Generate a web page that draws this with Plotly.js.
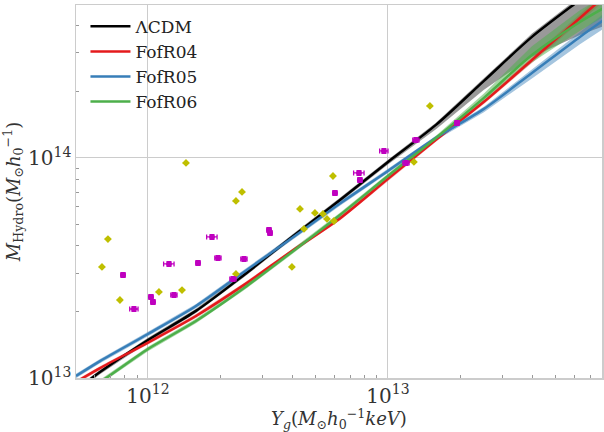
<!DOCTYPE html>
<html>
<head>
<meta charset="utf-8">
<script src="https://cdn.plot.ly/plotly-3.0.1.min.js"></script>
<style>html,body{margin:0;padding:0;background:#fff;}#chart{width:604px;height:432px;}</style>
</head>
<body>
<div id="chart"></div>
<script>
// Model curves: Y_g grid (x) and hydro mass (y)
const gridY = [5.012e11, 6.31e11, 1.0e12, 1.585e12, 2.512e12, 3.981e12, 6.31e12, 1.0e13, 1.585e13, 2.512e13, 3.981e13, 6.31e13, 7.943e13];
const lcdm   = [8.81e12, 1.064e13, 1.489e13, 2.018e13, 2.938e13, 4.375e13, 6.442e13, 9.594e13, 1.413e14, 2.239e14, 3.548e14, 5.224e14, 6.31e14];
const fofr04 = [9.59e12, 1.109e13, 1.449e13, 1.914e13, 2.649e13, 3.776e13, 5.309e13, 8.035e13, 1.208e14, 1.799e14, 2.786e14, 4.325e14, 5.395e14];
const fofr05 = [1.021e13, 1.194e13, 1.585e13, 2.123e13, 3.034e13, 4.325e13, 6.209e13, 8.73e13, 1.233e14, 1.671e14, 2.432e14, 3.548e14, 4.236e14];
const fofr06 = [8.375e12, 9.594e12, 1.355e13, 1.816e13, 2.564e13, 3.741e13, 5.508e13, 8.279e13, 1.233e14, 1.875e14, 2.938e14, 4.15e14, 4.808e14];

// Realisation scatter (lower / upper factors relative to the mean curve)
const lcdmLo = [0.977, 0.977, 0.977, 0.977, 0.977, 0.977, 0.977, 0.973, 0.955, 0.912, 0.813, 0.692, 0.631];
const lcdmHi = [1.023, 1.023, 1.023, 1.023, 1.023, 1.023, 1.023, 1.023, 1.023, 1.03, 1.035, 1.035, 1.035];
const r04Lo  = [0.98, 0.98, 0.98, 0.98, 0.98, 0.98, 0.98, 0.98, 0.98, 0.977, 0.97, 0.96, 0.955];
const r04Hi  = [1.02, 1.02, 1.02, 1.02, 1.02, 1.02, 1.02, 1.02, 1.02, 1.023, 1.03, 1.04, 1.045];
const r05Lo  = [0.977, 0.977, 0.977, 0.977, 0.977, 0.977, 0.977, 0.977, 0.977, 0.966, 0.945, 0.925, 0.915];
const r05Hi  = [1.023, 1.023, 1.023, 1.023, 1.023, 1.023, 1.023, 1.023, 1.023, 1.023, 1.04, 1.055, 1.07];
const r06Lo  = [0.977, 0.977, 0.977, 0.977, 0.977, 0.977, 0.977, 0.977, 0.977, 0.955, 0.925, 0.912, 0.912];
const r06Hi  = [1.023, 1.023, 1.023, 1.023, 1.023, 1.023, 1.023, 1.023, 1.023, 1.047, 1.096, 1.13, 1.13];

// Observed clusters, sample A (yellow diamonds)
const obsA_Y = [6.43e11, 6.81e11, 7.64e11, 1.111e12, 1.386e12, 1.44e12, 2.326e12, 2.326e12, 2.465e12, 3.98e12, 4.30e12, 4.467e12, 4.963e12, 5.36e12, 5.57e12, 5.957e12, 5.90e12, 1.283e13, 1.496e13];
const obsA_M = [3.196e13, 4.28e13, 2.262e13, 2.46e13, 2.51e13, 9.49e13, 2.97e13, 6.375e13, 7.007e13, 3.196e13, 5.865e13, 4.756e13, 5.623e13, 5.566e13, 5.282e13, 5.17e13, 8.28e13, 9.59e13, 1.724e14];
const obsA_Yerr = [3, 3, 3, 3, 3, 3, 3, 3, 3, 3, 3, 3, 3, 3, 3, 3, 3, 3, 3]; // percent
const obsA_Merr = [3, 3, 3, 3, 3, 3, 3, 3, 3, 3, 3, 3, 3, 3, 3, 3, 3, 3, 3]; // percent

// Observed clusters, sample B (magenta circles)
const obsB_Y = [7.87e11, 8.74e11, 1.029e12, 1.049e12, 1.223e12, 1.283e12, 1.616e12, 1.848e12, 1.957e12, 2.261e12, 2.512e12, 3.194e12, 3.225e12, 6.014e12, 7.572e12, 7.64e12, 9.62e12, 1.189e13, 1.308e13, 1.94e13];
const obsB_M = [2.939e13, 2.059e13, 2.335e13, 2.215e13, 3.298e13, 2.384e13, 3.332e13, 4.374e13, 3.512e13, 2.818e13, 3.474e13, 4.707e13, 4.562e13, 6.932e13, 8.55e13, 7.943e13, 1.076e14, 9.49e13, 1.207e14, 1.443e14];
const obsB_Yerr = [2, 4, 2, 2, 5, 3, 2, 5, 3, 3, 3, 2, 2, 2, 5, 2, 4, 3, 3, 2]; // percent
const obsB_Merr = [2.5, 2.5, 2.5, 2.5, 2.5, 2.5, 2.5, 2.5, 2.5, 2.5, 2.5, 2.5, 2.5, 2.5, 2.5, 2.5, 2.5, 2.5, 2.5, 2.5]; // percent

const models = [
  {name: '\u039BCDM', y: lcdm, lo: lcdmLo, hi: lcdmHi, color: '#000000', band: 'rgba(70,70,70,0.55)'},
  {name: 'FofR04', y: fofr04, lo: r04Lo, hi: r04Hi, color: '#e41a1c', band: 'rgba(228,26,28,0.35)'},
  {name: 'FofR05', y: fofr05, lo: r05Lo, hi: r05Hi, color: '#377eb8', band: 'rgba(55,126,184,0.45)'},
  {name: 'FofR06', y: fofr06, lo: r06Lo, hi: r06Hi, color: '#4daf4a', band: 'rgba(77,175,74,0.5)'}
];

const traces = [];
models.forEach(m => {
  const hiY = m.y.map((v, i) => v * m.hi[i]);
  const loY = m.y.map((v, i) => v * m.lo[i]);
  traces.push({
    x: gridY.concat(gridY.slice().reverse()),
    y: hiY.concat(loY.slice().reverse()),
    mode: 'lines', fill: 'toself', fillcolor: m.band,
    line: {width: 0}, showlegend: false, hoverinfo: 'skip'
  });
});
models.forEach(m => {
  traces.push({
    x: gridY, y: m.y, name: m.name, mode: 'lines',
    line: {color: m.color, width: 2.5, shape: 'spline', smoothing: 0.8}
  });
});

const pct = (vals, errs) => vals.map((v, i) => v * errs[i] / 100);

traces.push({
  x: obsA_Y, y: obsA_M, mode: 'markers', showlegend: false,
  marker: {symbol: 'diamond', size: 6, color: '#bfbf00'},
  error_x: {type: 'data', array: pct(obsA_Y, obsA_Yerr), color: '#bfbf00', thickness: 1.5, width: 0},
  error_y: {type: 'data', array: pct(obsA_M, obsA_Merr), color: '#bfbf00', thickness: 1.5, width: 0}
});
traces.push({
  x: obsB_Y, y: obsB_M, mode: 'markers', showlegend: false,
  marker: {symbol: 'circle', size: 6, color: '#bf00bf'},
  error_x: {type: 'data', array: pct(obsB_Y, obsB_Yerr), color: '#bf00bf', thickness: 1.3, width: 2.5},
  error_y: {type: 'data', array: pct(obsB_M, obsB_Merr), color: '#bf00bf', thickness: 1.3, width: 2.5}
});

const serif = 'DejaVu Serif';
const axisCommon = {
  type: 'log', showline: true, linecolor: '#cccccc', linewidth: 1.5, mirror: true,
  showgrid: true, gridcolor: '#cccccc', gridwidth: 1, zeroline: false,
  ticks: '', dtick: 1, exponentformat: 'power',
  tickfont: {family: serif, size: 16, color: '#333333'},
  minor: {ticks: 'inside', ticklen: 3, tickcolor: '#999999', tickwidth: 1, showgrid: false}
};

const layout = {
  width: 604, height: 432,
  margin: {l: 76, r: 2, t: 5, b: 54},
  paper_bgcolor: '#ffffff', plot_bgcolor: '#ffffff',
  font: {family: serif, color: '#333333'},
  showlegend: true,
  legend: {x: 0.018, y: 0.99, xanchor: 'left', yanchor: 'top', bgcolor: 'rgba(0,0,0,0)',
           font: {family: serif, size: 17, color: '#222222'}, tracegroupgap: 0, itemwidth: 40},
  xaxis: Object.assign({}, axisCommon, {
    range: [11.7, 13.892],
    title: {text: '<i>Y</i><sub><i>g</i></sub>(<i>M</i><sub>\u2299</sub><i>h</i><sub>0</sub><sup>\u22121</sup><i>keV</i>)',
            font: {family: serif, size: 18, color: '#333333'}, standoff: 5}
  }),
  yaxis: Object.assign({}, axisCommon, {
    range: [13, 14.695],
    title: {text: '<i>M</i><sub>Hydro</sub>(<i>M</i><sub>\u2299</sub><i>h</i><sub>0</sub><sup>\u22121</sup>)',
            font: {family: serif, size: 18, color: '#333333'}, standoff: 8}
  })
};

Plotly.newPlot('chart', traces, layout, {displayModeBar: false, staticPlot: true});
</script>
</body>
</html>
